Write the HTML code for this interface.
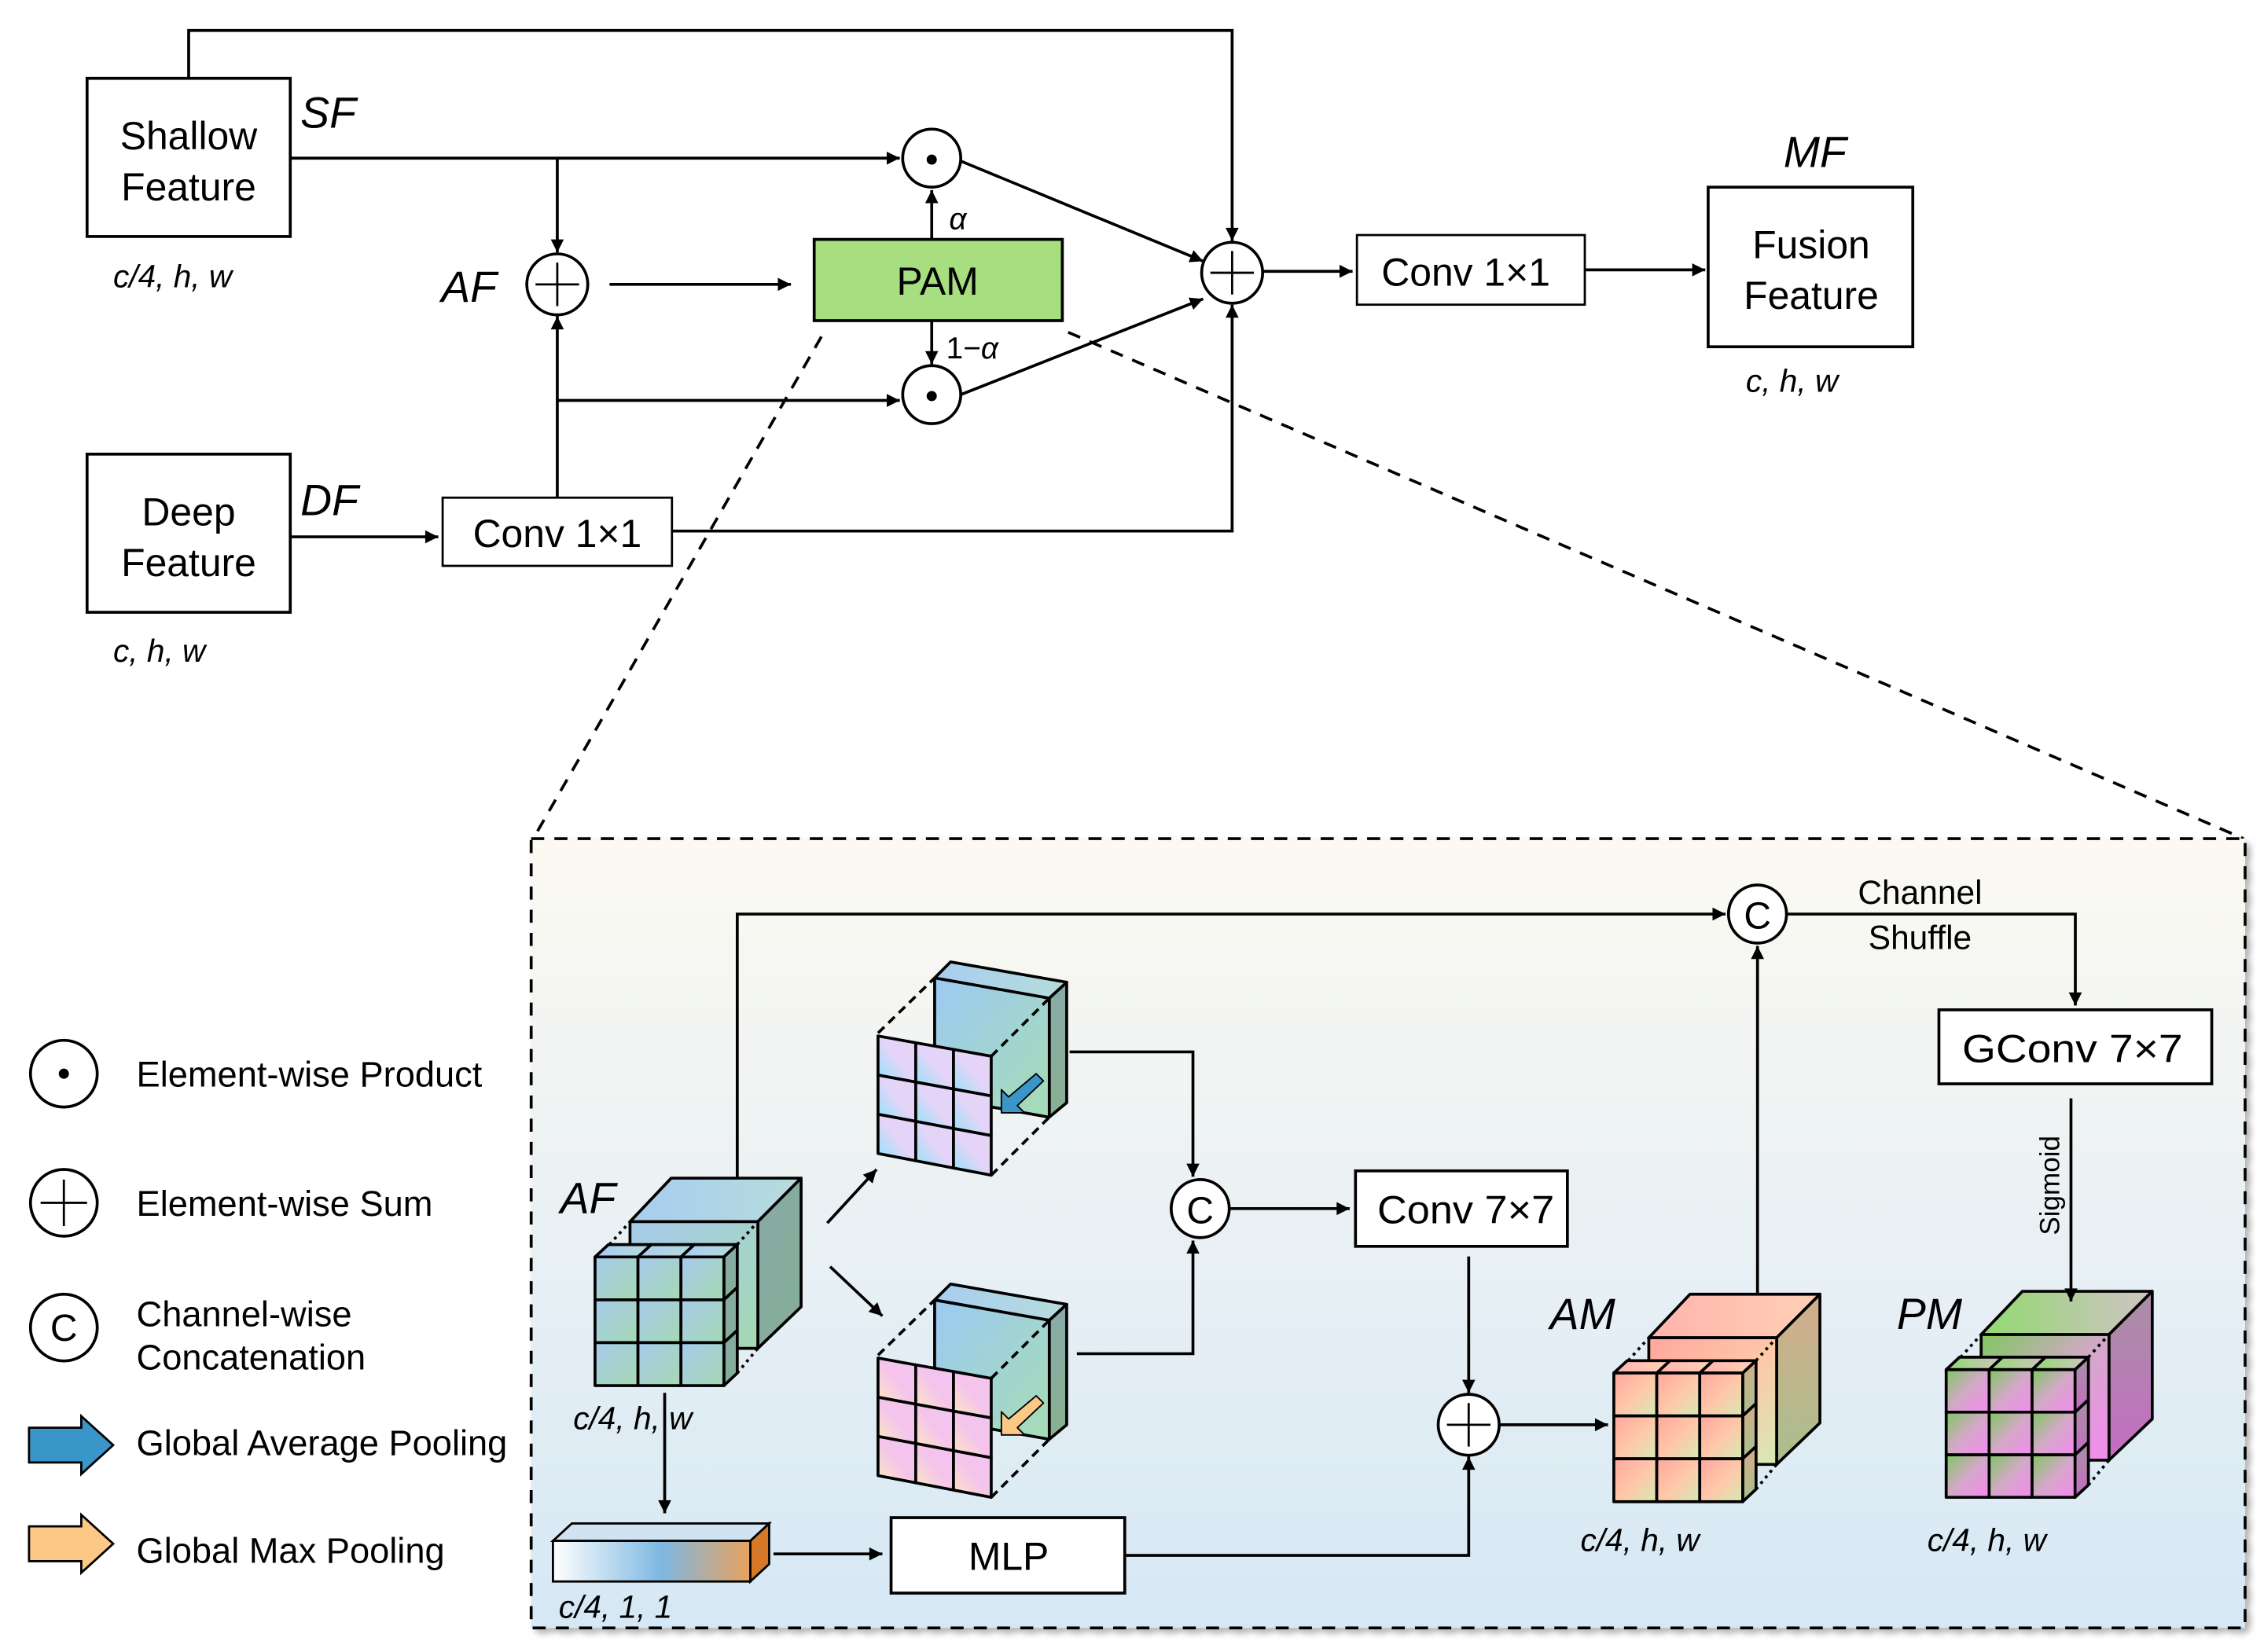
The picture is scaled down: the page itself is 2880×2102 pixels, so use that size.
<!DOCTYPE html>
<html><head><meta charset="utf-8">
<style>
html,body{margin:0;padding:0;background:#fff;}
svg{display:block;}
text{font-family:"Liberation Sans",Arial,sans-serif;fill:#000;}
.it{font-style:italic;}
</style></head>
<body>
<svg id="s" xmlns="http://www.w3.org/2000/svg" width="2880" height="2102" viewBox="0 0 1560 1138.6" preserveAspectRatio="none">
<defs>
<marker id="ar" viewBox="0 0 10 10" refX="10" refY="5" markerWidth="10" markerHeight="9" markerUnits="userSpaceOnUse" orient="auto">
<path d="M0,0 L10,5 L0,10 z" fill="#000"/></marker>
<linearGradient id="bg" x1="0" y1="0" x2="0" y2="1"><stop offset="0" stop-color="#fcf9f2"/><stop offset="1" stop-color="#d6e8f5"/></linearGradient>
<filter id="sh" x="-5%" y="-5%" width="110%" height="110%"><feDropShadow dx="3" dy="3" stdDeviation="2" flood-color="#888" flood-opacity="0.6"/></filter>
<linearGradient id="bar" x1="0" y1="0" x2="1" y2="0"><stop offset="0" stop-color="#fff"/><stop offset="0.55" stop-color="#7db8e2"/><stop offset="1" stop-color="#e8a25c"/></linearGradient>
<linearGradient id="g_af" x1="0" y1="0" x2="1" y2="1"><stop offset="0" stop-color="#a6cbec"/><stop offset="1" stop-color="#a6d8b2"/></linearGradient>
<linearGradient id="g_aft" x1="0" y1="0" x2="1" y2="0"><stop offset="0" stop-color="#a8cdf0"/><stop offset="1" stop-color="#b6dcdc"/></linearGradient>
<linearGradient id="g_afs" x1="0" y1="0" x2="1" y2="1"><stop offset="0" stop-color="#88aaa8"/><stop offset="1" stop-color="#84ae96"/></linearGradient>
<linearGradient id="g_am" x1="0" y1="0" x2="1" y2="1"><stop offset="0" stop-color="#ffa69e"/><stop offset="0.5" stop-color="#ffc6a8"/><stop offset="1" stop-color="#d6eab6"/></linearGradient>
<linearGradient id="g_amt" x1="0" y1="0" x2="1" y2="0"><stop offset="0" stop-color="#ffb4ac"/><stop offset="1" stop-color="#ffd0b6"/></linearGradient>
<linearGradient id="g_ams" x1="0" y1="0" x2="0" y2="1"><stop offset="0" stop-color="#d4ac8c"/><stop offset="1" stop-color="#a8c08e"/></linearGradient>
<linearGradient id="g_pm" x1="0" y1="0" x2="1" y2="1"><stop offset="0" stop-color="#7ec860"/><stop offset="0.5" stop-color="#d4a8c8"/><stop offset="1" stop-color="#f48af0"/></linearGradient>
<linearGradient id="g_pmt" x1="0" y1="0" x2="1" y2="0"><stop offset="0" stop-color="#92d870"/><stop offset="1" stop-color="#d0c4c4"/></linearGradient>
<linearGradient id="g_pms" x1="0" y1="0" x2="0" y2="1"><stop offset="0" stop-color="#a890a4"/><stop offset="1" stop-color="#c46cc4"/></linearGradient>
<linearGradient id="g_gb" x1="0" y1="0" x2="1" y2="1"><stop offset="0" stop-color="#9ccaf4"/><stop offset="1" stop-color="#a6dcb4"/></linearGradient>
<linearGradient id="g_gbs" x1="0" y1="0" x2="0" y2="1"><stop offset="0" stop-color="#88aaa8"/><stop offset="1" stop-color="#88b090"/></linearGradient>
<linearGradient id="g_lav" x1="0" y1="1" x2="1" y2="0"><stop offset="0" stop-color="#90e4f8"/><stop offset="0.5" stop-color="#e4d4f8"/><stop offset="1" stop-color="#e6d2f8"/></linearGradient>
<linearGradient id="g_pink" x1="0" y1="1" x2="1" y2="0"><stop offset="0" stop-color="#fce8c0"/><stop offset="0.5" stop-color="#f4c4ec"/><stop offset="1" stop-color="#f2c6f0"/></linearGradient>
</defs>

<g fill="none" stroke="#000" stroke-width="2">
<polyline points="130,54 130,21 849,21 849,166" marker-end="url(#ar)"/>
<line x1="200" y1="109" x2="620" y2="109" marker-end="url(#ar)"/>
<line x1="384" y1="109" x2="384" y2="174" marker-end="url(#ar)"/>
<line x1="420" y1="196" x2="545" y2="196" marker-end="url(#ar)"/>
<line x1="642" y1="165" x2="642" y2="131" marker-end="url(#ar)"/>
<line x1="642" y1="221" x2="642" y2="251" marker-end="url(#ar)"/>
<line x1="384" y1="343" x2="384" y2="218" marker-end="url(#ar)"/>
<line x1="384" y1="276" x2="620" y2="276" marker-end="url(#ar)"/>
<line x1="200" y1="370" x2="302" y2="370" marker-end="url(#ar)"/>
<polyline points="463,366 849,366 849,210" marker-end="url(#ar)"/>
<line x1="662" y1="111" x2="829" y2="180" marker-end="url(#ar)"/>
<line x1="662" y1="272" x2="829" y2="206" marker-end="url(#ar)"/>
<line x1="870" y1="187" x2="932" y2="187" marker-end="url(#ar)"/>
<line x1="1092" y1="186" x2="1175" y2="186" marker-end="url(#ar)"/>
<rect x="60" y="54" width="140" height="109" fill="#fff"/>
<rect x="60" y="313" width="140" height="109" fill="#fff"/>
<rect x="305" y="343" width="158" height="47" fill="#fff" stroke-width="1.5"/>
<rect x="935" y="162" width="157" height="48" fill="#fff" stroke-width="1.5"/>
<rect x="1177" y="129" width="141" height="110" fill="#fff"/>
<rect x="561" y="165" width="171" height="56" fill="#a6de80"/>
<circle cx="384" cy="196" r="21" fill="#fff"/>
<circle cx="642" cy="109" r="20" fill="#fff"/>
<circle cx="642" cy="272" r="20" fill="#fff"/>
<circle cx="849" cy="188" r="21" fill="#fff"/>
<path d="M369,196 H399 M384,181 V211 M834,188 H864 M849,173 V203" stroke-width="1.5"/>
<line x1="566" y1="232" x2="368" y2="577" stroke-dasharray="9,7"/>
<line x1="736" y1="229" x2="1546" y2="578" stroke-dasharray="9,7"/>
</g>
<circle cx="642" cy="110" r="3.5" fill="#000"/>
<circle cx="642" cy="273" r="3.5" fill="#000"/>

<text x="130" y="103" font-size="27" text-anchor="middle">Shallow</text>
<text x="130" y="138" font-size="27" text-anchor="middle">Feature</text>
<text x="130" y="362" font-size="27" text-anchor="middle">Deep</text>
<text x="130" y="397" font-size="27" text-anchor="middle">Feature</text>
<text x="1248" y="178" font-size="27" text-anchor="middle">Fusion</text>
<text x="1248" y="213" font-size="27" text-anchor="middle">Feature</text>
<text x="384" y="377" font-size="27" text-anchor="middle">Conv 1×1</text>
<text x="1010" y="197" font-size="27" text-anchor="middle">Conv 1×1</text>
<text x="646" y="203" font-size="27" text-anchor="middle">PAM</text>
<text x="207" y="88" font-size="30" class="it">SF</text>
<text x="207" y="355" font-size="30" class="it">DF</text>
<text x="304" y="208" font-size="30" class="it">AF</text>
<text x="1229" y="115" font-size="30" class="it">MF</text>
<text x="78" y="198" font-size="22" class="it">c/4, h, w</text>
<text x="78" y="456" font-size="22" class="it">c, h, w</text>
<text x="1203" y="270" font-size="22" class="it">c, h, w</text>
<text x="654" y="158" font-size="21" class="it">α</text>
<text x="652" y="247" font-size="21">1−<tspan class="it">α</tspan></text>

<g fill="#fff" stroke="#000" stroke-width="2">
<circle cx="44" cy="740" r="23"/>
<circle cx="44" cy="829" r="23"/>
<circle cx="44" cy="915" r="23"/>
<path d="M28,829 H60 M44,813 V845" fill="none" stroke-width="1.5"/>
<polygon points="20,984 56,984 56,976 78,996 56,1016 56,1008 20,1008" fill="#3a95c9" stroke-width="1.5"/>
<polygon points="20,1052 56,1052 56,1044 78,1064 56,1084 56,1076 20,1076" fill="#fcc886" stroke-width="1.5"/>
</g>
<circle cx="44" cy="740" r="3.5" fill="#000"/>
<text x="44" y="924" font-size="26" text-anchor="middle">C</text>
<text x="94" y="749" font-size="24.5">Element-wise Product</text>
<text x="94" y="838" font-size="24.5">Element-wise Sum</text>
<text x="94" y="914" font-size="24.5">Channel-wise</text>
<text x="94" y="944" font-size="24.5">Concatenation</text>
<text x="94" y="1003" font-size="24.5">Global Average Pooling</text>
<text x="94" y="1077" font-size="24.5">Global Max Pooling</text>

<rect x="366" y="578" width="1181" height="544" fill="url(#bg)" stroke="#000" stroke-width="2" stroke-dasharray="9,7" filter="url(#sh)"/>
<g id="cubes"></g>
<g fill="none" stroke="#000" stroke-width="2">
<polyline points="508,812 508,630 1189,630" marker-end="url(#ar)"/>
<line x1="570" y1="843" x2="604" y2="806" marker-end="url(#ar)"/>
<line x1="572" y1="873" x2="608" y2="907" marker-end="url(#ar)"/>
<polyline points="737,725 822,725 822,811" marker-end="url(#ar)"/>
<polyline points="742,933 822,933 822,855" marker-end="url(#ar)"/>
<line x1="848" y1="833" x2="930" y2="833" marker-end="url(#ar)"/>
<line x1="1012" y1="866" x2="1012" y2="960" marker-end="url(#ar)"/>
<line x1="1033" y1="982" x2="1108" y2="982" marker-end="url(#ar)"/>
<line x1="1211" y1="892" x2="1211" y2="652" marker-end="url(#ar)"/>
<polyline points="1232,630 1430,630 1430,693" marker-end="url(#ar)"/>
<line x1="1427" y1="757" x2="1427" y2="897" marker-end="url(#ar)"/>
<line x1="458" y1="960" x2="458" y2="1043" marker-end="url(#ar)"/>
<line x1="533" y1="1071" x2="608" y2="1071" marker-end="url(#ar)"/>
<polyline points="775,1072 1012,1072 1012,1004" marker-end="url(#ar)"/>
<rect x="934" y="807" width="146" height="52" fill="#fff"/>
<rect x="1336" y="696" width="188" height="51" fill="#fff"/>
<rect x="614" y="1046" width="161" height="52" fill="#fff"/>
<circle cx="827" cy="833" r="20" fill="#fff"/>
<circle cx="1211" cy="630" r="20" fill="#fff"/>
<circle cx="1012" cy="982" r="21" fill="#fff"/>
<path d="M997,982 H1027 M1012,967 V997" stroke-width="1.5"/>
<polygon points="381,1062 394,1050 530,1050 517,1062" fill="#cfe3f3" stroke-width="1.5"/>
<polygon points="517,1062 530,1050 530,1078 517,1090" fill="#d67a2a" stroke-width="1.5"/>
<rect x="381" y="1062" width="136" height="28" fill="url(#bar)" stroke-width="1.5"/>
</g>
<text x="827" y="843" font-size="26" text-anchor="middle">C</text>
<text x="1211" y="640" font-size="26" text-anchor="middle">C</text>
<text x="949" y="843" font-size="27" textLength="122" lengthAdjust="spacingAndGlyphs">Conv 7×7</text>
<text x="1352" y="732" font-size="27" textLength="152" lengthAdjust="spacingAndGlyphs">GConv 7×7</text>
<text x="695" y="1082" font-size="27" text-anchor="middle">MLP</text>
<text x="1323" y="623" font-size="23" text-anchor="middle">Channel</text>
<text x="1323" y="654" font-size="23" text-anchor="middle">Shuffle</text>
<text x="1419" y="817" font-size="19" text-anchor="middle" transform="rotate(-90 1419 817)">Sigmoid</text>
<text x="386" y="836" font-size="30" class="it">AF</text>
<text x="1068" y="916" font-size="30" class="it">AM</text>
<text x="1307" y="916" font-size="30" class="it">PM</text>
<text x="395" y="985" font-size="22" class="it">c/4, h, w</text>
<text x="1089" y="1069" font-size="22" class="it">c/4, h, w</text>
<text x="1328" y="1069" font-size="22" class="it">c/4, h, w</text>
<text x="385" y="1115" font-size="22" class="it">c/4, 1, 1</text>
</svg>
<script>
(function(){
var NS="http://www.w3.org/2000/svg",G=document.getElementById("cubes");
function el(t,a){var e=document.createElementNS(NS,t);for(var k in a)e.setAttribute(k,a[k]);G.appendChild(e);return e;}
function P(pts){return pts.map(function(p){return p[0].toFixed(1)+","+p[1].toFixed(1)}).join(" ");}
function poly(pts,fill,extra){var a={points:P(pts),fill:fill,stroke:"#000","stroke-width":2,"stroke-linejoin":"round"};for(var k in extra)a[k]=extra[k];return el("polygon",a);}
function line(a,b,dash){el("line",{x1:a[0],y1:a[1],x2:b[0],y2:b[1],stroke:"#000","stroke-width":2,"stroke-dasharray":dash||""});}
function cube(X,Y,W,H,c){
 function p(fx,fy){return [X+fx*W,Y+fy*H];}
 poly([p(.17,.21),p(.37,0),p(1,0),p(.79,.21)],c.t);
 poly([p(.79,.21),p(1,0),p(1,.62),p(.79,.82)],c.s);
 poly([p(.17,.21),p(.79,.21),p(.79,.82),p(.17,.82)],c.f);
 line(p(.07,.32),p(.17,.21),"2,3");line(p(.69,.32),p(.79,.21),"2,3");line(p(.69,.94),p(.79,.82),"2,3");
 var x0=0,x1=.625,y0=.38,y1=1,dx=.065,dy=-.06;
 for(var i=0;i<3;i++){var a=x0+(x1-x0)*i/3,b=x0+(x1-x0)*(i+1)/3;
  poly([p(a,y0),p(a+dx,y0+dy),p(b+dx,y0+dy),p(b,y0)],c.t);}
 for(var j=0;j<3;j++){var a=y0+(y1-y0)*j/3,b=y0+(y1-y0)*(j+1)/3;
  poly([p(x1,a),p(x1+dx,a+dy),p(x1+dx,b+dy),p(x1,b)],c.s);}
 for(var i=0;i<3;i++)for(var j=0;j<3;j++){
  var a=x0+(x1-x0)*i/3,b=x0+(x1-x0)*(i+1)/3,u=y0+(y1-y0)*j/3,v=y0+(y1-y0)*(j+1)/3;
  poly([p(a,u),p(b,u),p(b,v),p(a,v)],c.g);}
}
cube(410,812,142,143,{t:"url(#g_aft)",s:"url(#g_afs)",f:"url(#g_af)",g:"url(#g_af)"});
cube(1112,892,142,143,{t:"url(#g_amt)",s:"url(#g_ams)",f:"url(#g_am)",g:"url(#g_am)"});
cube(1341,890,142,142,{t:"url(#g_pmt)",s:"url(#g_pms)",f:"url(#g_pm)",g:"url(#g_pm)"});
function pool(oy,grid,arrowFill){
 function q(x,y){return [x,y+oy];}
 poly([q(644,674),q(655,663),q(735,677),q(723,688)],"url(#g_aft)");
 poly([q(723,688),q(735,677),q(735,760),q(723,770)],"url(#g_gbs)");
 poly([q(644,674),q(723,688),q(723,770),q(644,756)],"url(#g_gb)");
 line(q(605,712),q(644,674),"6,4");line(q(683,728),q(723,688),"6,4");line(q(683,810),q(723,770),"6,4");
 var A=q(605,714),B=q(683,728),C=q(683,810),D=q(605,795);
 function L(a,b,t){return [a[0]+(b[0]-a[0])*t,a[1]+(b[1]-a[1])*t];}
 for(var i=0;i<3;i++)for(var j=0;j<3;j++){
  var top0=L(A,B,i/3),top1=L(A,B,(i+1)/3),bot0=L(D,C,i/3),bot1=L(D,C,(i+1)/3);
  poly([L(top0,bot0,j/3),L(top1,bot1,j/3),L(top1,bot1,(j+1)/3),L(top0,bot0,(j+1)/3)],grid);}
 poly([q(714,740),q(719,745),q(701,762),q(706,767),q(690,767),q(690,751),q(695,756)],arrowFill,{"stroke-width":1});
}
pool(0,"url(#g_lav)","#3a95c9");
pool(222,"url(#g_pink)","#fcc886");
})();
</script>
</body></html>
